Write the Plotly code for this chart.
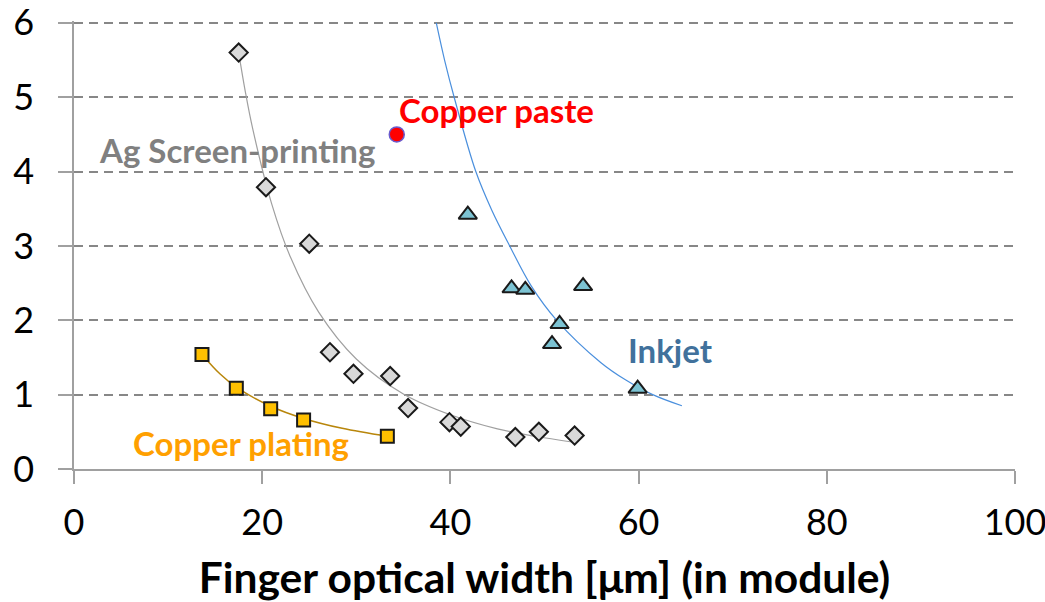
import plotly.graph_objects as go

# --- data ---
ag_x = [17.5, 20.4, 25.0, 27.2, 29.7, 33.6, 35.5, 39.9, 41.1, 46.9, 49.4, 53.2]
ag_y = [5.60, 3.79, 3.03, 1.57, 1.28, 1.25, 0.82, 0.63, 0.57, 0.43, 0.50, 0.45]

plating_x = [13.6, 17.25, 20.9, 24.4, 33.3]
plating_y = [1.54, 1.085, 0.81, 0.66, 0.44]

inkjet_x = [41.85, 46.5, 47.96, 54.1, 51.6, 50.8, 59.9]
inkjet_y = [3.42, 2.43, 2.41, 2.46, 1.95, 1.68, 1.08]

paste_x = [34.3]
paste_y = [4.50]

# trend lines
ag_trend_x = [17.5, 18.2, 19.0, 21.0, 23.0, 26.0, 30.0, 35.0, 40.0, 45.0, 49.0, 53.1]
ag_trend_y = [5.60, 5.08, 4.57, 3.57, 2.85, 2.11, 1.48, 1.01, 0.73, 0.54, 0.44, 0.36]

inkjet_trend_x = [38.5, 39.4, 40.4, 42.7, 44.4, 46.3, 48.6, 51.3, 56.0, 58.6, 61.5, 64.6]
inkjet_trend_y = [6.00, 5.49, 5.00, 4.00, 3.48, 3.00, 2.46, 2.00, 1.43, 1.20, 1.00, 0.85]

plating_trend_x = [13.6, 15.5, 17.25, 20.9, 24.4, 28.5, 33.3]
plating_trend_y = [1.54, 1.28, 1.10, 0.844, 0.68, 0.547, 0.44]

x_ticks = [0, 20, 40, 60, 80, 100]
y_ticks = [0, 1, 2, 3, 4, 5, 6]

labels = ["Copper paste", "Ag Screen-printing", "Inkjet", "Copper plating"]
label_x = [34.35, 2.45, 58.65, 6.05]
label_y = [4.83, 4.29, 1.60, 0.35]
label_colors = ["#FF0000", "#808080", "#41719C", "#FFA000"]

FONT = "Lato"

fig = go.Figure()

# trend lines
fig.add_trace(go.Scatter(x=ag_trend_x, y=ag_trend_y, mode="lines",
                         line=dict(color="#A0A0A0", width=1.2, shape="spline"),
                         hoverinfo="skip"))
fig.add_trace(go.Scatter(x=inkjet_trend_x, y=inkjet_trend_y, mode="lines",
                         line=dict(color="#4A8FDD", width=1.2, shape="spline"),
                         hoverinfo="skip"))
fig.add_trace(go.Scatter(x=plating_trend_x, y=plating_trend_y, mode="lines",
                         line=dict(color="#B8860B", width=1.5, shape="spline"),
                         hoverinfo="skip"))

# markers
fig.add_trace(go.Scatter(x=ag_x, y=ag_y, mode="markers",
                         marker=dict(symbol="diamond", size=14, color="#D9D9D9",
                                     line=dict(color="#1A1A1A", width=2))))
fig.add_trace(go.Scatter(x=plating_x, y=plating_y, mode="markers",
                         marker=dict(symbol="square", size=13, color="#FFC000",
                                     line=dict(color="#1A1A1A", width=2))))
fig.add_trace(go.Scatter(x=inkjet_x, y=inkjet_y, mode="markers",
                         marker=dict(symbol="triangle-up", size=16, color="#7CC3D3",
                                     line=dict(color="#1A1A1A", width=2))))
fig.add_trace(go.Scatter(x=paste_x, y=paste_y, mode="markers",
                         marker=dict(symbol="circle", size=15, color="#FF0000",
                                     line=dict(color="#6A5ACD", width=1.5))))

for t, xx, yy, c in zip(labels, label_x, label_y, label_colors):
    fig.add_annotation(x=xx, y=yy, text="<b>%s</b>" % t, showarrow=False,
                       xanchor="left", yanchor="middle",
                       font=dict(family=FONT, size=33, color=c))

fig.update_layout(
    width=1045, height=602,
    margin=dict(l=74, r=30, t=21, b=133, autoexpand=False),
    paper_bgcolor="white", plot_bgcolor="white",
    showlegend=False,
    font=dict(family=FONT, color="black"),
)

fig.update_xaxes(
    range=[0, 100], tickvals=x_ticks, ticktext=[str(v) for v in x_ticks],
    showgrid=False, zeroline=False, automargin=False,
    ticklabeloverflow="allow",
    showline=True, linecolor="#A0A0A0", linewidth=1.5,
    ticks="outside", ticklen=13, tickcolor="#A0A0A0", tickwidth=1.5,
    tickfont=dict(family=FONT, size=36, color="black"),
    ticklabelstandoff=8,
    title=dict(text="<b>Finger optical width [μm] (in module)</b>",
               font=dict(family=FONT, size=42.5, color="black"), standoff=22),
)
fig.update_yaxes(
    range=[0, 6.025], tickvals=y_ticks, ticktext=[str(v) for v in y_ticks],
    showgrid=True, gridcolor="#878787", gridwidth=2, griddash="9px,6px",
    zeroline=False, automargin=False,
    ticklabeloverflow="allow",
    showline=True, linecolor="#A0A0A0", linewidth=1.5,
    ticks="outside", ticklen=14, tickcolor="#A0A0A0", tickwidth=1.5,
    tickfont=dict(family=FONT, size=36, color="black"),
    ticklabelstandoff=17,
)

fig.write_html("out.html")
